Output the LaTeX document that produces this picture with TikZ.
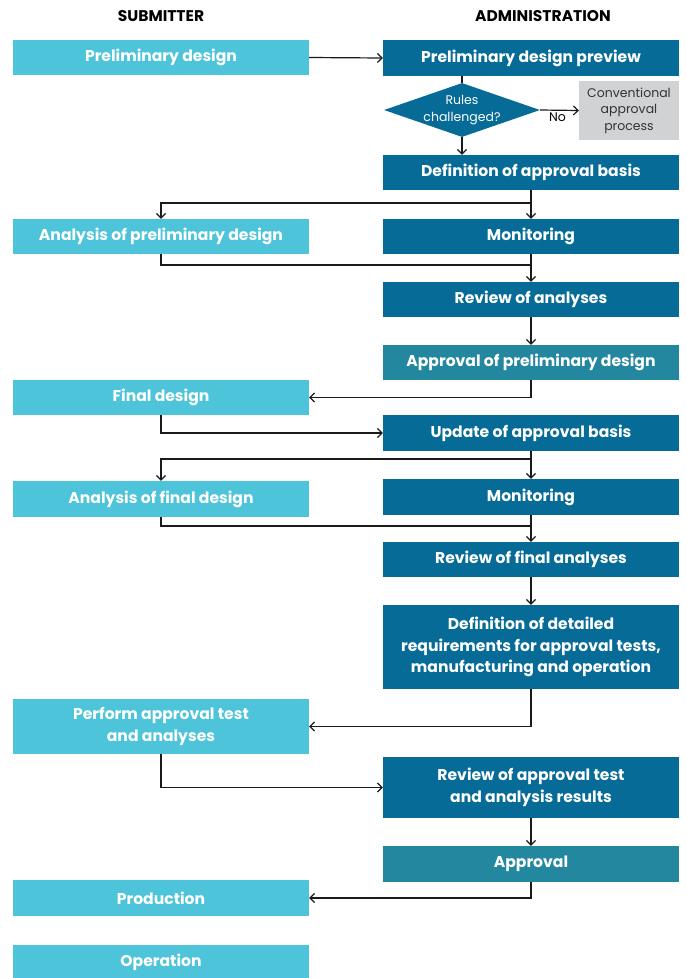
\documentclass[tikz,border=0pt]{standalone}
\usepackage{fontspec}
\setmainfont{Poppins}
\usetikzlibrary{arrows.meta,shapes.geometric,calc}
\definecolor{subcol}{HTML}{4DC4D9}
\definecolor{admcol}{HTML}{066B96}
\definecolor{apprcol}{HTML}{2387A0}
\definecolor{graycol}{HTML}{D1D2D4}
\definecolor{linecol}{HTML}{1A1A1A}
\definecolor{txtgray}{HTML}{333333}
\begin{document}
\begin{tikzpicture}[x=1pt,y=-1pt,
  base/.style={rectangle, inner sep=0pt, minimum width=296pt, text=white, align=center,
    font=\bfseries\fontsize{15.6}{21.5}\selectfont},
  sub/.style={base, fill=subcol},
  adm/.style={base, fill=admcol},
  appr/.style={base, fill=apprcol},
  small/.style={font=\fontsize{12.5}{16.5}\selectfont},
  head/.style={font=\bfseries\fontsize{15.5}{18}\selectfont, text=black, inner sep=0pt},
  arr/.style={draw=linecol, line width=1.2pt, -{Straight Barb[length=4.5pt,width=9pt]}},
  ln/.style={draw=linecol, line width=1.2pt}]
\useasboundingbox (0,0) rectangle (686,978);

% column headings
\node[head] (hs) at (161,16) {SUBMITTER};
\node[head] (ha) at (543,16) {ADMINISTRATION};

% submitter column
\node[sub, minimum height=35pt] (pd)   at (161,57.5)  {Preliminary design};
\node[sub, minimum height=35pt] (apd)  at (161,236.5) {Analysis of preliminary design};
\node[sub, minimum height=35pt] (fd)   at (161,397.5) {Final design};
\node[sub, minimum height=36pt] (afd)  at (161,499)   {Analysis of final design};
\node[sub, minimum height=55pt] (pat)  at (161,726.5) {Perform approval test\\and analyses};
\node[sub, minimum height=36pt] (prod) at (161,898)   {Production};
\node[sub, minimum height=35pt] (oper) at (161,962.5) {Operation};

% administration column
\node[adm, minimum height=36pt] (pdp)  at (531,58)    {Preliminary design preview};
% decision diamond: fixed-size shape, caption set on top of it
\node[diamond, fill=admcol, minimum width=156pt, minimum height=54pt, inner sep=0pt] (dia) at (462,110) {};
\node[small, text=white, align=center, inner sep=0pt] (diat) at (dia.center) {Rules\\challenged?};
\node[rectangle, fill=graycol, minimum width=100pt, minimum height=59pt, inner sep=0pt,
      text=txtgray, align=center, small] (conv) at (629,110.5)
      {Conventional\\approval\\process};
\node[adm, minimum height=35pt] (dab)  at (531,172.5) {Definition of approval basis};
\node[adm, minimum height=35pt] (mon1) at (531,236.5) {Monitoring};
\node[adm, minimum height=35pt] (roa)  at (531,299.5) {Review of analyses};
\node[appr, minimum height=35pt] (aopd) at (531,362.5) {Approval of preliminary design};
\node[adm, minimum height=36pt] (uab)  at (531,433)   {Update of approval basis};
\node[adm, minimum height=36pt] (mon2) at (531,497)   {Monitoring};
\node[adm, minimum height=35pt] (rfa)  at (531,559.5) {Review of final analyses};
\node[adm, minimum height=84pt] (ddr)  at (531,647)   {Definition of detailed\\requirements for approval tests,\\manufacturing and operation};
\node[adm, minimum height=61pt] (rat)  at (531,787.5) {Review of approval test\\and analysis results};
\node[appr, minimum height=36pt] (apv) at (531,864)   {Approval};

% junction points
\coordinate (s1) at (531,203);
\coordinate (m1) at (531,265);
\coordinate (s2) at (531,459);
\coordinate (m2) at (531,526);

% connectors
\draw[arr] (pd.east) -- (pdp.west);
\draw[ln] (dia.north |- pdp.south) -- (dia.north);
\draw[arr] (dia.south) -- (dia.south |- dab.north);
\draw[arr] (dia.east) -- node[below, pos=0.45, small, text=black, inner sep=2pt] (no) {No} (conv.west);

\draw[ln] (dab.south) -- (s1);
\draw[arr] (s1) -- (mon1.north);
\draw[arr] (s1) -| (apd.north);
\draw[ln] (apd.south) |- (m1);
\draw[ln] (mon1.south) -- (m1);
\draw[arr] (m1) -- (roa.north);
\draw[arr] (roa.south) -- (aopd.north);
\draw[arr] (aopd.south) |- (fd.east);
\draw[arr] (fd.south) |- (uab.west);

\draw[ln] (uab.south) -- (s2);
\draw[arr] (s2) -- (mon2.north);
\draw[arr] (s2) -| (afd.north);
\draw[ln] (afd.south) |- (m2);
\draw[ln] (mon2.south) -- (m2);
\draw[arr] (m2) -- (rfa.north);
\draw[arr] (rfa.south) -- (ddr.north);
\draw[arr] (ddr.south) |- (pat.east);
\draw[arr] (pat.south) |- (rat.west);
\draw[arr] (rat.south) -- (apv.north);
\draw[arr] (apv.south) |- (prod.east);
\end{tikzpicture}
\end{document}
